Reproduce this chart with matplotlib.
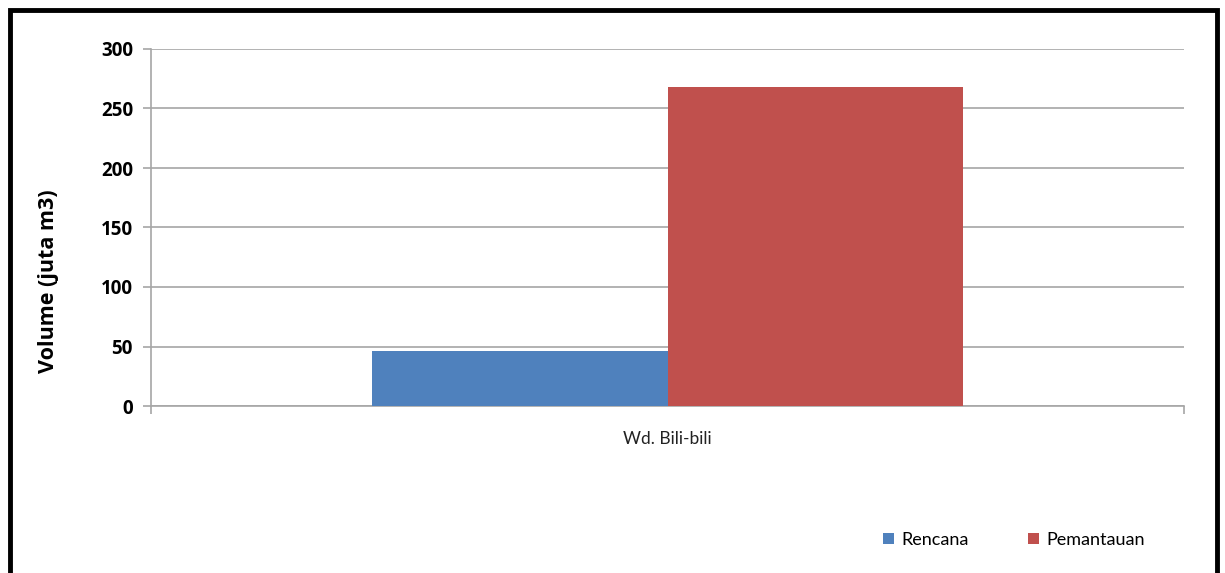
import matplotlib.pyplot as plt
from matplotlib.patches import Rectangle

plt.rcParams['font.family'] = ['Lato', 'DejaVu Sans']

categories = ["Wd. Bili-bili"]
series_names = ["Rencana", "Pemantauan"]
rencana = [46]
pemantauan = [268]
colors = ["#4F81BD", "#C0504D"]

W, H = 1225, 573
fig = plt.figure(figsize=(W / 100, H / 100), dpi=100)

# plot area in pixels: x 151..1184, y 49..406
ax = fig.add_axes([151 / W, 1 - 406 / H, (1184 - 151) / W, (406 - 49) / H])

bar_w = 0.2856
ax.bar([-bar_w / 2], rencana, width=bar_w, color=colors[0], label=series_names[0], zorder=3)
ax.bar([bar_w / 2], pemantauan, width=bar_w, color=colors[1], label=series_names[1], zorder=3)

ax.set_xlim(-0.5, 0.5)
ax.set_ylim(0, 300)
ax.set_yticks(range(0, 301, 50))
ax.yaxis.grid(True, color="#A6A6A6", linewidth=1.2, zorder=0)
ax.set_axisbelow(True)

for side in ["top", "right"]:
    ax.spines[side].set_visible(False)
ax.spines["left"].set_color("#A6A6A6")
ax.spines["bottom"].set_color("#A6A6A6")
ax.spines["left"].set_linewidth(1.2)
ax.spines["bottom"].set_linewidth(1.2)

ax.tick_params(axis="y", direction="out", length=6, color="#A6A6A6", width=1.2, pad=7)
for lbl in ax.get_yticklabels():
    lbl.set_fontfamily("Open Sans")
    lbl.set_fontweight("bold")
    lbl.set_fontsize(13.5)

# category ticks sit at the edges, label in the middle
ax.set_xticks([-0.5, 0.5])
ax.set_xticklabels([])
ax.tick_params(axis="x", direction="out", length=6, color="#A6A6A6", width=1.2)
ax.text(0, -0.07, categories[0], transform=ax.get_xaxis_transform(), ha="center", va="top",
        fontsize=12.5, color="#222222")

ax.set_ylabel("Volume (juta m3)", fontsize=15.5, fontweight="bold", family="Open Sans")
ax.yaxis.set_label_coords(-0.089, 0.35)

fig.legend(loc="center", bbox_to_anchor=(1014 / W, 1 - 540 / H), ncol=2, frameon=False,
           prop={"family": "Lato", "size": 13}, handlelength=0.6, handleheight=0.6,
           columnspacing=3.3, handletextpad=0.4)

# outer frame, bottom edge runs past the image
fig.patches.append(Rectangle((10 / W, -0.05), (1217 - 10) / W, 1.05 - 10 / H,
                             transform=fig.transFigure, fill=False, edgecolor="black",
                             linewidth=3.5, zorder=10))

fig.savefig("out.png", dpi=100, facecolor="white")
